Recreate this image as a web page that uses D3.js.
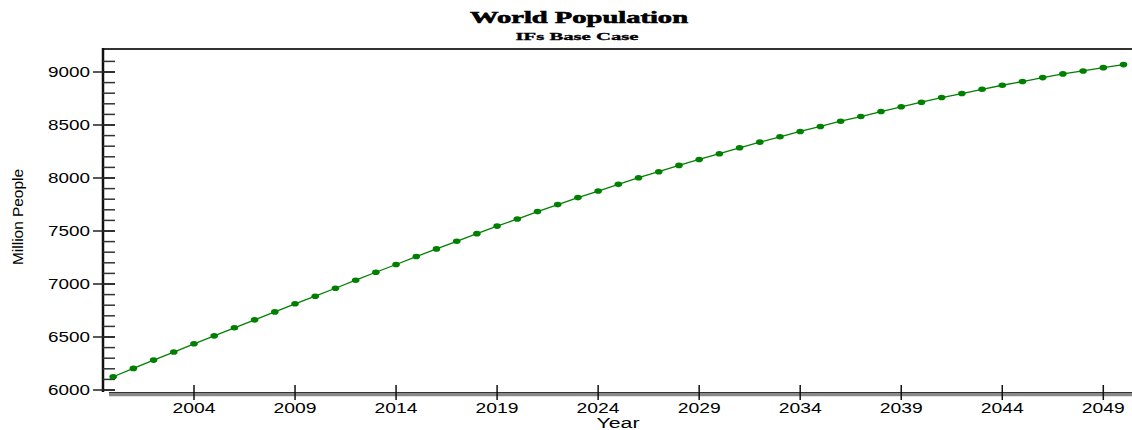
<!DOCTYPE html>
<html>
<head>
<meta charset="utf-8">
<script src="https://cdn.jsdelivr.net/npm/d3@7"></script>
<style>
  html, body { margin: 0; padding: 0; background: #fff; }
  svg { display: block; }
</style>
</head>
<body>
<svg id="chart" width="1132" height="430"></svg>
<script>
// ---- Data ----
const years = d3.range(2000, 2051);
const population = [
  6125, 6204, 6282, 6358, 6436, 6511, 6587, 6662, 6737, 6813,
  6885, 6960, 7036, 7111, 7184, 7259, 7331, 7403, 7475, 7546,
  7613, 7683, 7749, 7815, 7877, 7940, 8003, 8059, 8119, 8175,
  8229, 8285, 8338, 8389, 8439, 8486, 8536, 8580, 8627, 8672,
  8715, 8759, 8797, 8837, 8875, 8910, 8947, 8982, 9010, 9041,
  9070
];
const xTickValues = [2004, 2009, 2014, 2019, 2024, 2029, 2034, 2039, 2044, 2049];
const yTickValues = [6000, 6500, 7000, 7500, 8000, 8500, 9000];
const yMinorTicks = d3.range(6000, 9201, 100);
const titleText = "World Population";
const subtitleText = "IFs Base Case";
const xLabel = "Year";
const yLabel = "Million People";

// ---- Layout ----
const svg = d3.select("#chart");
const W = 1132, H = 430;
const plotLeft = 103, plotTop = 49, plotRight = 1132, plotBottom = 392;

const x = d3.scaleLinear().domain([2004, 2049]).range([194, 1103.3]);
const y = d3.scaleLinear().domain([6000, 9000]).range([390, 72]);

const green = "#008000";
const labelFont = "'Liberation Sans', Arial, sans-serif";

// Title
svg.append("text")
  .attr("x", 579).attr("y", 23)
  .attr("text-anchor", "middle")
  .attr("font-family", "'Liberation Serif', 'Times New Roman', serif")
  .attr("font-weight", "bold")
  .attr("font-size", 17)
  .attr("textLength", 218).attr("lengthAdjust", "spacingAndGlyphs")
  .attr("stroke", "#000").attr("stroke-width", 0.6)
  .text(titleText);
svg.append("text")
  .attr("x", 577).attr("y", 39.5)
  .attr("text-anchor", "middle")
  .attr("font-family", "'Liberation Serif', 'Times New Roman', serif")
  .attr("font-weight", "bold")
  .attr("font-size", 11)
  .attr("textLength", 123).attr("lengthAdjust", "spacingAndGlyphs")
  .attr("stroke", "#000").attr("stroke-width", 0.3)
  .text(subtitleText);

// Top border
svg.append("line")
  .attr("x1", plotLeft).attr("x2", plotRight)
  .attr("y1", plotTop).attr("y2", plotTop)
  .attr("stroke", "#333").attr("stroke-width", 2);

// Y axis line
svg.append("line")
  .attr("x1", plotLeft).attr("x2", plotLeft)
  .attr("y1", plotTop - 1).attr("y2", plotBottom)
  .attr("stroke", "#111").attr("stroke-width", 2.5);

// Y minor ticks (inside)
svg.append("g").selectAll("line")
  .data(yMinorTicks.filter(v => y(v) > plotTop + 3 && y(v) <= plotBottom))
  .join("line")
  .attr("x1", plotLeft).attr("x2", 115)
  .attr("y1", d => y(d)).attr("y2", d => y(d))
  .attr("stroke", "#333").attr("stroke-width", 1.5);

// Y major ticks (crossing)
const yAxisG = svg.append("g");
yAxisG.selectAll("line")
  .data(yTickValues)
  .join("line")
  .attr("x1", 93).attr("x2", 115)
  .attr("y1", d => y(d)).attr("y2", d => y(d))
  .attr("stroke", "#222").attr("stroke-width", 1.5);
yAxisG.selectAll("text")
  .data(yTickValues)
  .join("text")
  .attr("x", 90).attr("y", d => y(d) + 5)
  .attr("text-anchor", "end")
  .attr("font-family", labelFont)
  .attr("font-size", 14)
  .attr("textLength", 42).attr("lengthAdjust", "spacingAndGlyphs")
  .text(d => d);

// X axis band
svg.append("line")
  .attr("x1", 109).attr("x2", plotRight)
  .attr("y1", 394.5).attr("y2", 394.5)
  .attr("stroke", "#8a8a8a").attr("stroke-width", 3.5);
svg.append("line")
  .attr("x1", 109).attr("x2", plotRight)
  .attr("y1", 392.5).attr("y2", 392.5)
  .attr("stroke", "#333").attr("stroke-width", 1.2);

// X ticks
const xAxisG = svg.append("g");
xAxisG.selectAll("line")
  .data(xTickValues)
  .join("line")
  .attr("x1", d => x(d)).attr("x2", d => x(d))
  .attr("y1", 385).attr("y2", 400)
  .attr("stroke", "#111").attr("stroke-width", 1.5);
xAxisG.selectAll("text")
  .data(xTickValues)
  .join("text")
  .attr("x", d => x(d)).attr("y", 413)
  .attr("text-anchor", "middle")
  .attr("font-family", labelFont)
  .attr("font-size", 14)
  .attr("textLength", 43).attr("lengthAdjust", "spacingAndGlyphs")
  .text(d => d);

// Axis labels
svg.append("text")
  .attr("x", 618).attr("y", 428)
  .attr("text-anchor", "middle")
  .attr("font-family", labelFont)
  .attr("font-size", 14)
  .attr("textLength", 43).attr("lengthAdjust", "spacingAndGlyphs")
  .text(xLabel);
svg.append("text")
  .attr("transform", "translate(23,217) rotate(-90)")
  .attr("text-anchor", "middle")
  .attr("font-family", labelFont)
  .attr("font-size", 14)
  .attr("textLength", 96).attr("lengthAdjust", "spacingAndGlyphs")
  .text(yLabel);

// Line
const series = years.map((yr, i) => ({ year: yr, value: population[i] }));
svg.append("path")
  .datum(series)
  .attr("fill", "none")
  .attr("stroke", green)
  .attr("stroke-width", 1.3)
  .attr("d", d3.line().x(d => x(d.year)).y(d => y(d.value)));

// Dots
svg.append("g").selectAll("ellipse")
  .data(series)
  .join("ellipse")
  .attr("cx", d => x(d.year)).attr("cy", d => y(d.value))
  .attr("rx", 3.8).attr("ry", 2.8)
  .attr("fill", green);
</script>
</body>
</html>
